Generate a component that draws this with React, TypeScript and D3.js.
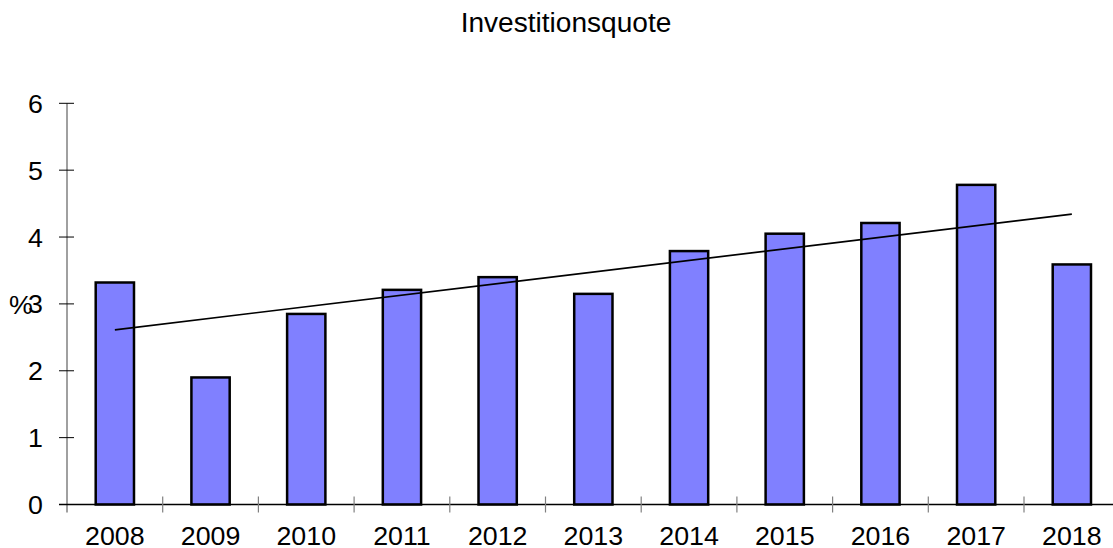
import * as React from 'react';
import * as d3 from 'd3';

const years = ['2008', '2009', '2010', '2011', '2012', '2013', '2014', '2015', '2016', '2017', '2018'];
const quote = [3.32, 1.9, 2.85, 3.21, 3.4, 3.15, 3.79, 4.05, 4.21, 4.78, 3.59];
const yTicks = [0, 1, 2, 3, 4, 5, 6];
const title = 'Investitionsquote';
const yLabel = '%';

const W = 1113;
const H = 548;
const margin = { left: 67, top: 103.3, bottom: 43.5 };
const bandW = 95.7;
const font = '"Liberation Sans", Arial, sans-serif';
const stretch = 'scale(1.03,1)';

export default function App() {
  const x = d3.scaleBand<string>()
    .domain(years)
    .range([margin.left, margin.left + bandW * years.length])
    .paddingInner(0)
    .paddingOuter(0);
  const y = d3.scaleLinear()
    .domain([0, 6])
    .range([H - margin.bottom, margin.top]);

  // least squares trend over the year index
  const idx = years.map((_, i) => i);
  const mx = d3.mean(idx)!;
  const my = d3.mean(quote)!;
  const slope = d3.sum(idx, i => (i - mx) * (quote[i] - my)) / d3.sum(idx, i => (i - mx) ** 2);
  const trend = (i: number) => my + slope * (i - mx);
  const cx = (i: number) => x(years[i])! + x.bandwidth() / 2;
  const line = d3.line<number>().x(i => cx(i)).y(i => y(trend(i)));

  const barW = x.bandwidth() * 0.4;
  const x0 = x.range()[0];
  const yBase = y(0);

  return (
    <svg width={W} height={H} style={{ position: 'absolute', left: 0, top: 0, background: '#fff' }} fontFamily={font}>
      <text transform={`translate(566,31.5) scale(1.04,1)`} textAnchor="middle" fontSize={27} fill="#000">{title}</text>

      {/* y axis */}
      <line x1={x0} x2={x0} y1={y(6)} y2={yBase + 8} stroke="#808080" strokeWidth={1.5} />
      {yTicks.map(t => (
        <g key={t}>
          <line x1={x0 - 8} x2={x0 + 7} y1={y(t)} y2={y(t)} stroke="#000" strokeWidth={1} />
          <text transform={`translate(43,${y(t) + 9.5}) ${stretch}`} textAnchor="end" fontSize={26} fill="#000">{t}</text>
        </g>
      ))}
      <text transform={`translate(9,313.5) ${stretch}`} textAnchor="start" fontSize={26} fill="#000">{yLabel}</text>

      {/* bars */}
      {years.map((yr, i) => (
        <rect key={yr}
          x={cx(i) - barW / 2}
          y={y(quote[i])}
          width={barW}
          height={yBase - y(quote[i])}
          fill="#8080ff"
          stroke="#000"
          strokeWidth={2.5} />
      ))}

      {/* x axis */}
      <line x1={x0 - 8} x2={W} y1={yBase} y2={yBase} stroke="#000" strokeWidth={1.5} />
      {years.slice(1).map(yr => (
        <line key={yr} x1={x(yr)!} x2={x(yr)!} y1={yBase - 8} y2={yBase + 8} stroke="#808080" strokeWidth={1.2} />
      ))}
      {years.map((yr, i) => (
        <text key={yr} transform={`translate(${cx(i)},545) ${stretch}`} textAnchor="middle" fontSize={26} fill="#000">{yr}</text>
      ))}

      {/* trend */}
      <path d={line([0, years.length - 1])!} fill="none" stroke="#000" strokeWidth={1.7} />
    </svg>
  );
}
